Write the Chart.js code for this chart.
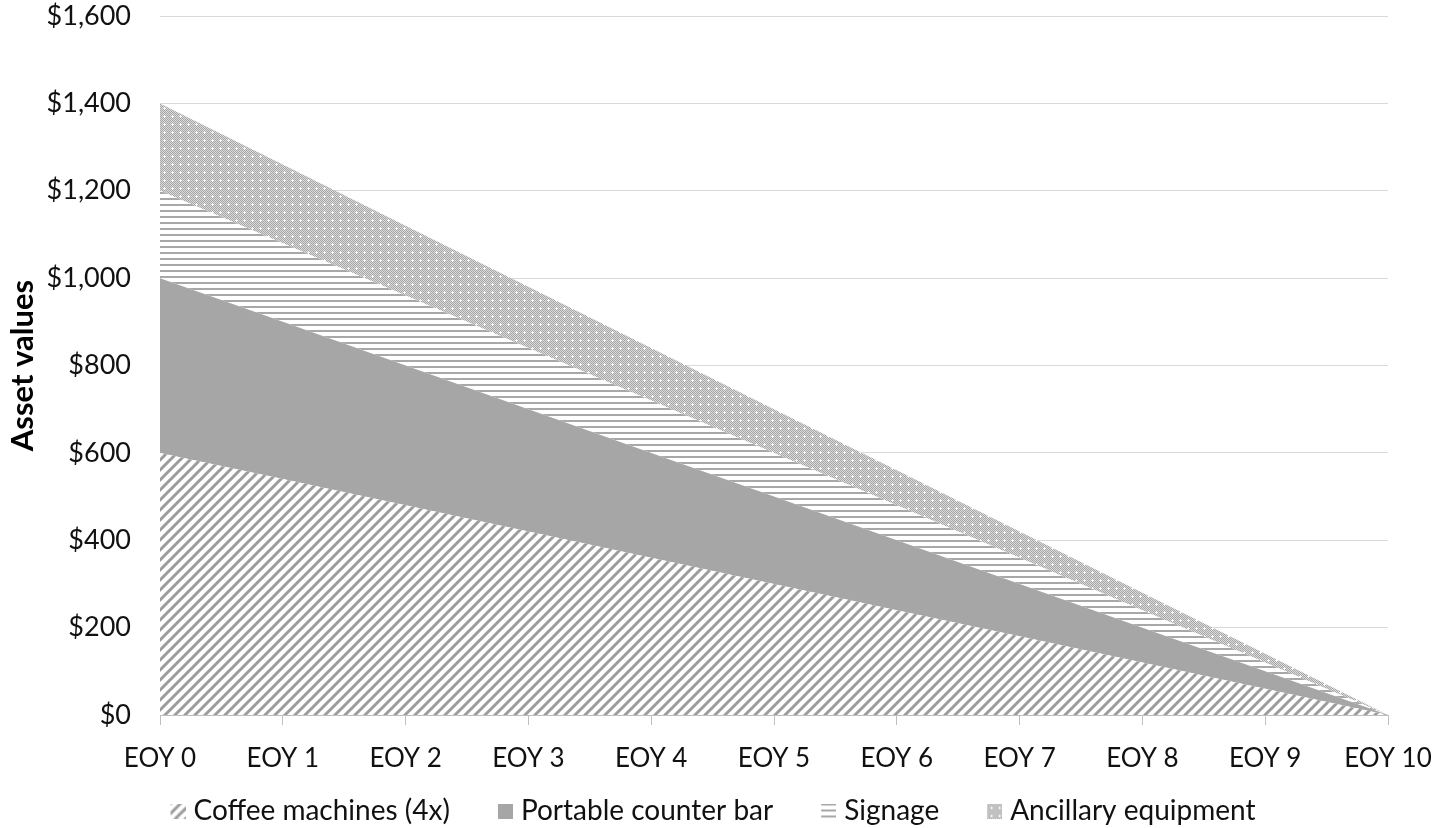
<!DOCTYPE html>
<html>
<head>
<meta charset="utf-8">
<script src="https://cdn.jsdelivr.net/npm/chart.js@4"></script>
<style>
html,body{margin:0;padding:0;background:#fff;}
#wrap{width:1433px;height:828px;}
</style>
</head>
<body>
<div id="wrap"><canvas id="c" width="1433" height="828"></canvas></div>
<script>
const categories = ["EOY 0","EOY 1","EOY 2","EOY 3","EOY 4","EOY 5","EOY 6","EOY 7","EOY 8","EOY 9","EOY 10"];
const coffeeMachines = [600,540,480,420,360,300,240,180,120,60,0];
const counterBar = [400,360,320,280,240,200,160,120,80,40,0];
const signage = [200,180,160,140,120,100,80,60,40,20,0];
const ancillary = [200,180,160,140,120,100,80,60,40,20,0];
const seriesNames = ["Coffee machines (4x)","Portable counter bar","Signage","Ancillary equipment"];
const yTicks = [0,200,400,600,800,1000,1200,1400,1600];

function makeTile(size, draw){
  const c = document.createElement('canvas');
  c.width = size; c.height = size;
  draw(c.getContext('2d'), size);
  return c;
}
const diagTile = makeTile(10, (g,s)=>{
  g.fillStyle='#fff'; g.fillRect(0,0,s,s);
  g.strokeStyle='#9c9c9c'; g.lineWidth=3;
  g.beginPath();
  g.moveTo(-2, s+2); g.lineTo(s+2, -2);
  g.moveTo(-2, 2); g.lineTo(2, -2);
  g.moveTo(s-2, s+2); g.lineTo(s+2, s-2);
  g.stroke();
});
const horizTile = makeTile(6, (g,s)=>{
  g.fillStyle='#fff'; g.fillRect(0,0,s,s);
  g.fillStyle='#a8a8a8'; g.fillRect(0,0,s,2);
});
const dotsTile = makeTile(8, (g,s)=>{
  for(let y=0;y<s;y++){for(let x=0;x<s;x++){
    g.fillStyle = ((x+y)%2===0) ? '#a6a6a6' : '#dcdcdc';
    g.fillRect(x,y,1,1);
  }}
  g.fillStyle='#fff';
  g.fillRect(3,4,3,1); g.fillRect(4,3,1,3);
});
const tmp = document.createElement('canvas').getContext('2d');
const diag = tmp.createPattern(diagTile, 'repeat');
const horiz = tmp.createPattern(horizTile, 'repeat');
const dots = tmp.createPattern(dotsTile, 'repeat');
const solid = '#a6a6a6';

// legend swatch: 15x15 box at the right end of a wider transparent image
const SW_W = 47, SW_OVER = 6, BOX = 15;
function swatch(fill){
  const c = document.createElement('canvas');
  c.width = SW_W + 2 * SW_OVER; c.height = BOX;
  const g = c.getContext('2d');
  g.fillStyle = fill;
  g.translate(c.width - BOX, 0);
  g.fillRect(0, 0, BOX, BOX);
  return c;
}

const ctx = document.getElementById('c').getContext('2d');
new Chart(ctx, {
  type: 'line',
  data: {
    labels: categories,
    datasets: [
      {label: seriesNames[0], data: coffeeMachines, backgroundColor: diag, fill: 'origin', pointStyle: swatch(diag)},
      {label: seriesNames[1], data: counterBar, backgroundColor: solid, fill: '-1', pointStyle: swatch(solid)},
      {label: seriesNames[2], data: signage, backgroundColor: horiz, fill: '-1', pointStyle: swatch(horiz)},
      {label: seriesNames[3], data: ancillary, backgroundColor: dots, fill: '-1', pointStyle: swatch(dots)}
    ].map(d => Object.assign(d, {borderWidth: 0, borderColor: 'rgba(0,0,0,0)', pointRadius: 0, pointHoverRadius: 0, tension: 0}))
  },
  options: {
    responsive: false,
    animation: false,
    layout: {padding: {top: 16, right: 45, left: 0, bottom: -7}},
    plugins: {
      legend: {
        position: 'bottom',
        labels: {
          usePointStyle: true, pointStyleWidth: SW_W,
          boxWidth: 15, boxHeight: 15, color: '#111',
          font: {family: 'Lato', size: 28},
          padding: 10
        }
      },
      tooltip: {enabled: false}
    },
    scales: {
      x: {
        afterFit: (s) => { s.height = 72; s.paddingLeft = 0; s.paddingRight = 0; },
        grid: {drawOnChartArea: false, drawTicks: true, tickLength: 10, color: '#bfbfbf'},
        border: {color: '#bfbfbf', width: 1},
        ticks: {color: '#111', font: {family: 'Lato', size: 26}, padding: 18, maxRotation: 0, autoSkip: false},
        offset: false
      },
      y: {
        stacked: true,
        min: 0, max: 1600,
        afterBuildTicks: (s) => { s.ticks = yTicks.map(v => ({value: v})); },
        afterFit: (s) => { s.width = 160; s.paddingTop = 0; s.paddingBottom = 0; },
        grid: {color: '#d9d9d9', drawTicks: false},
        border: {display: false},
        ticks: {
          color: '#111', padding: 29,
          font: {family: 'Lato', size: 27},
          callback: v => '$' + v.toLocaleString('en-US')
        },
        title: {display: true, text: 'Asset values', color: '#000', font: {family: 'Lato', size: 31, weight: 'bold'}, padding: {top: 4, bottom: 0}}
      }
    }
  }
});
</script>
</body>
</html>
